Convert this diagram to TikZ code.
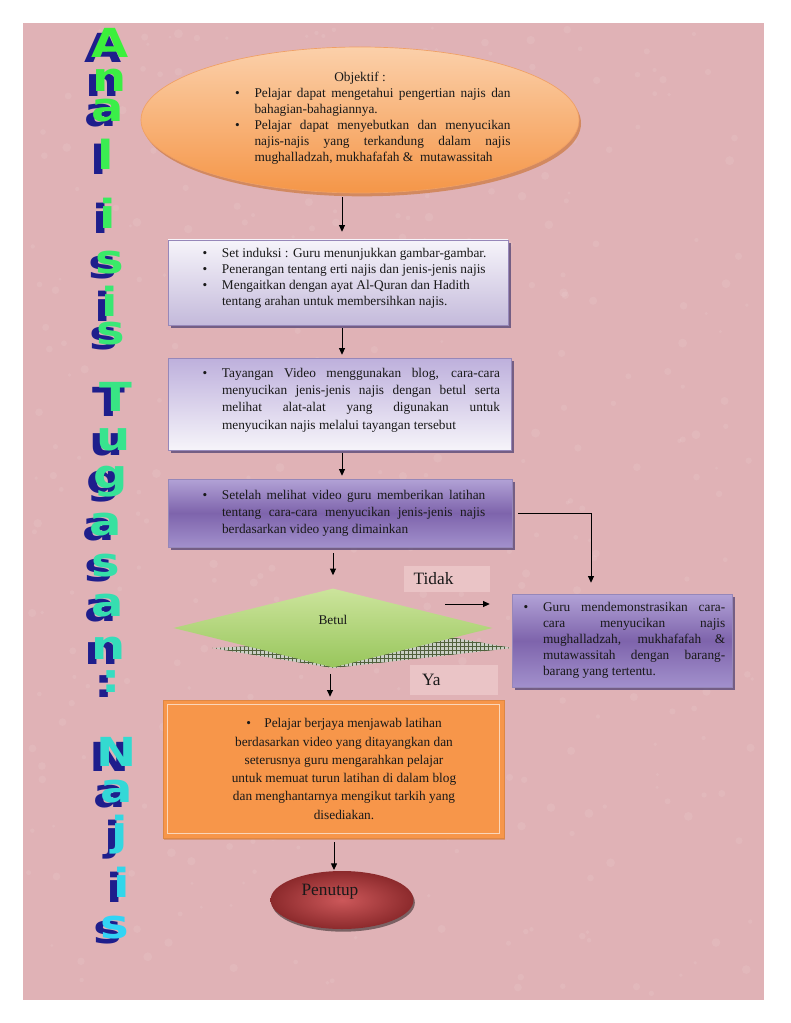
\documentclass[tikz,border=0pt]{standalone}
\usepackage{graphicx}
\usepackage{fontspec}
\setmainfont{Liberation Serif}
\newfontfamily\titlefont{DejaVu Sans}
\usetikzlibrary{positioning,arrows.meta,shapes.geometric,shadows,calc}

\definecolor{pagepink}{RGB}{224,178,182}
\definecolor{notepink}{RGB}{234,196,198}
\definecolor{peachtop}{RGB}{251,208,170}
\definecolor{peachbot}{RGB}{245,150,72}
\definecolor{peachedge}{RGB}{240,160,100}
\definecolor{peachshade}{RGB}{205,120,60}
\definecolor{lavtop}{RGB}{246,244,250}
\definecolor{lavbot}{RGB}{196,186,219}
\definecolor{lavedge}{RGB}{150,135,185}
\definecolor{lavshade}{RGB}{90,74,120}
\definecolor{violtop}{RGB}{178,162,214}
\definecolor{violmid}{RGB}{126,100,172}
\definecolor{violbot}{RGB}{162,144,204}
\definecolor{greentop}{RGB}{204,228,156}
\definecolor{greenbot}{RGB}{152,198,92}
\definecolor{greenshade}{RGB}{80,96,60}
\definecolor{jayaorange}{RGB}{247,150,74}
\definecolor{jayaline}{RGB}{250,214,186}
\definecolor{endinner}{RGB}{204,88,90}
\definecolor{endouter}{RGB}{140,42,44}
\definecolor{titletop}{RGB}{60,240,60}
\definecolor{titlebot}{RGB}{50,212,245}
\definecolor{titleshade}{RGB}{30,30,140}

\hyphenpenalty=10000
\exhyphenpenalty=10000
\tolerance=9999
\newcommand{\bul}{\par\noindent\llap{\textbullet\hspace{11pt}}}
\newcommand{\wordart}[1]{\scalebox{1.2}[1]{\rlap{\hspace{-4.5pt}\raisebox{-3.75pt}[0pt][0pt]{\textcolor{titleshade}{#1}}}#1}}

\tikzset{
  arr/.style={-{Triangle[length=5pt,width=4.5pt]}, line width=0.75pt},
  body/.style={font=\fontsize{10}{12}\selectfont, text=black!90, inner sep=0pt},
  lavbox/.style={body, rectangle, draw=lavedge, line width=0.4pt,
    drop shadow={shadow xshift=2pt, shadow yshift=-2pt, fill=lavshade, opacity=0.8}},
  violbox/.style={lavbox, top color=violtop, bottom color=violbot, middle color=violmid},
  notebox/.style={fill=notepink, inner ysep=0pt, font=\fontsize{13}{15}\selectfont,
    text=black!90, align=left},
  titleletter/.style={font=\titlefont\bfseries\fontsize{30}{30}\selectfont, inner sep=0pt},
}

\begin{document}
\begin{tikzpicture}[x=0.75pt, y=-0.75pt]
\useasboundingbox (0,0) rectangle (791,1023);
% Page and texture
\fill[white] (0,0) rectangle (791,1023);
\fill[pagepink] (23,23) rectangle (764,1000);
\pgfmathsetseed{11}
\foreach \s in {1,...,400} {
  \pgfmathsetmacro\sx{28+730*rnd}
  \pgfmathsetmacro\sy{28+966*rnd}
  \pgfmathsetmacro\sr{1.5+3*rnd}
  \fill[white, opacity=0.08] (\sx,\sy) circle (\sr);
}
% Vertical title
\foreach \ch/\lx/\ly [count=\k] in {A/110/43, n/110/80, a/108/111, l/106/154, i/108/213,
    s/110/263, i/110/301, s/111/334, T/116/397, u/114/440, g/111/482, a/106/525,
    s/106/566, a/108/606, n/109/648, :/111/682, N/117/752, a/117/792, j/120/835,
    i/122/882, s/115/928} {
  \pgfmathtruncatemacro\mix{(\ly-43)/885*100}
  \node[titleletter, text=titlebot!\mix!titletop] (tl\k) at (\lx,\ly) {\wordart{\ch}};
}
% Objektif
\node[body, ellipse, minimum width=328.5pt, minimum height=109.5pt,
  top color=peachtop, bottom color=peachbot, draw=peachedge, line width=0.5pt,
  drop shadow={shadow xshift=1.5pt, shadow yshift=-2.5pt, fill=peachshade, opacity=0.7}]
  (obj) at (360,120) {\parbox{225.75pt}{{\centering Objektif :\par}
  \leftskip=33.75pt
  \bul Pelajar dapat mengetahui pengertian najis dan\linebreak bahagian-bahagiannya.
  \bul Pelajar dapat menyebutkan dan menyucikan\linebreak najis-najis yang terkandung dalam najis\linebreak mughalladzah, mukhafafah \&\ \ mutawassitah\par\vspace{3pt}}};
% Steps
\node[lavbox, top color=lavtop, bottom color=lavbot, minimum height=63.75pt]
  (induksi) at (338,282.5) {\parbox{255pt}{\raggedright\leftskip=40.5pt
  \bul Set induksi : Guru menunjukkan gambar-gambar.
  \bul Penerangan tentang erti najis dan jenis-jenis najis
  \bul Mengaitkan dengan ayat Al-Quran dan Hadith\\ tentang arahan untuk membersihkan najis.\par\vspace{6pt}}};
\node[lavbox, top color=violtop!85!white, bottom color=lavtop,
  minimum height=69pt, font=\fontsize{10}{13}\selectfont]
  (video) at (339.5,404) {\parbox{257.25pt}{\leftskip=40.5pt \rightskip=8.25pt
  \bul Tayangan Video menggunakan blog, cara-cara\linebreak menyucikan jenis-jenis najis dengan betul serta\linebreak melihat alat-alat yang digunakan untuk\linebreak menyucikan najis melalui tayangan tersebut\par\vspace{6pt}}};
\node[violbox, minimum height=51pt, font=\fontsize{10}{12.75}\selectfont]
  (latihan) at (340,513) {\parbox{258pt}{\leftskip=40.5pt \rightskip=20pt
  \bul Setelah melihat video guru memberikan latihan\linebreak tentang cara-cara menyucikan jenis-jenis najis\linebreak berdasarkan video yang dimainkan\par}};
% Decision
\fill[greenshade!30] (212,648) -- (450,637) -- (512,648) -- (333,668) -- cycle;
\begin{scope}
  \clip (212,648) -- (450,637) -- (512,648) -- (333,668) -- cycle;
  \foreach \gx in {212,216,...,512} \draw[greenshade, line width=0.4pt] (\gx,630) -- (\gx,670);
  \foreach \gy in {634,638,...,670} \draw[greenshade, line width=0.4pt] (210,\gy) -- (515,\gy);
\end{scope}
\node[diamond, minimum width=239.25pt, minimum height=59.25pt, inner sep=0pt,
  top color=greentop, bottom color=greenbot,
  label={[body, yshift=6pt]center:Betul}] (betul) at (333,628) {};
\node[notebox, text width=50pt, inner xsep=7pt, minimum height=20pt] (tidak) at (447,579) {Tidak};
\node[notebox, text width=48pt, inner xsep=9pt, minimum height=22pt] (ya) at (454,680) {Ya};
\node[violbox, minimum height=69.75pt]
  (demo) at (622,640.5) {\parbox{165pt}{\leftskip=23.25pt \rightskip=5pt
  \bul Guru mendemonstrasikan cara-\linebreak cara menyucikan najis\linebreak mughalladzah, mukhafafah \&\linebreak mutawassitah dengan barang-\linebreak barang yang tertentu.\par}};
% Result
\node[body, fill=jayaorange, draw=jayaorange!90!black, line width=0.5pt,
  minimum height=103.5pt, font=\fontsize{10}{13.7}\selectfont,
  drop shadow={shadow xshift=1pt, shadow yshift=-1.5pt, fill=peachshade, opacity=0.5}]
  (jaya) at (333.5,769) {\parbox{255.75pt}{\centering\leftskip=15.75pt plus 1fil
  \textbullet\hspace{10pt}Pelajar berjaya menjawab latihan\\
  berdasarkan video yang ditayangkan dan\\
  seterusnya guru mengarahkan pelajar\\
  untuk memuat turun latihan di dalam blog\\
  dan menghantarnya mengikut tarkih yang\\
  disediakan.\par}};
\draw[jayaline, line width=0.8pt] ($(jaya.south west)+(5,-5)$) rectangle ($(jaya.north east)+(-5,5)$);
\node[ellipse, minimum width=107.25pt, minimum height=43.5pt, inner sep=0pt,
  inner color=endinner, outer color=endouter,
  drop shadow={shadow xshift=1pt, shadow yshift=-2pt, fill=black, opacity=0.45},
  label={[body, font=\fontsize{13}{15}\selectfont, xshift=-9pt, yshift=6pt]center:Penutup}]
  (penutup) at (342,900) {};
% Connectors
\coordinate (spineA) at (342,0);
\coordinate (spineB) at (333,0);
\coordinate (spineC) at (330,0);
\coordinate (spineD) at (334,0);
\coordinate (elbow) at (591,0);
\coordinate (tidakfrom) at (445,604);
\draw[arr, shorten <=3pt, shorten >=6pt] (obj.south -| spineA) -- (induksi.north -| spineA);
\draw[arr, shorten <=2.25pt, shorten >=2.25pt] (induksi.south -| spineA) -- (video.north -| spineA);
\draw[arr, shorten <=2.25pt, shorten >=2.25pt] (video.south -| spineA) -- (latihan.north -| spineA);
\draw[arr, shorten <=4.5pt, shorten >=9.75pt] (latihan.south -| spineB) -- (betul.north -| spineB);
\draw[arr, shorten <=4.5pt, shorten >=2.25pt] (betul.south -| spineC) -- (jaya.north -| spineC);
\draw[arr, shorten <=3pt, shorten >=0.5pt] (jaya.south -| spineD) -- (penutup.north -| spineD);
\draw[arr, shorten <=4.5pt, shorten >=8.25pt] (latihan.east) -| (demo.north -| elbow);
\draw[arr, shorten >=16.5pt] (tidakfrom) -- (tidakfrom -| demo.west);
\end{tikzpicture}
\end{document}
